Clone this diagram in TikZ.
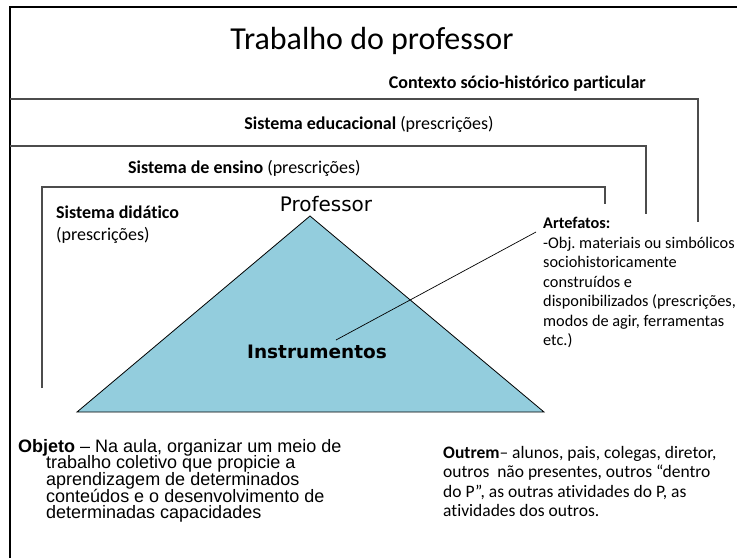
\documentclass[tikz,border=0pt]{standalone}
\usepackage{fontspec}
\setmainfont{Carlito}[Ligatures={TeX,NoCommon}]
\newfontfamily\verdanafont{DejaVu Sans}
\newfontfamily\arialfont{Liberation Sans}
\usepackage{xcolor}
\usepackage{tikz}
\usetikzlibrary{positioning, calc}
\frenchspacing
\definecolor{triblue}{HTML}{93CDDD}
\newcommand\objfont{\arialfont\fontsize{18}{16.6}\selectfont\lineskiplimit=-20pt\relax}
\tikzstyle{ctxline} = [line width=1.1pt, draw=black!70]
\tikzstyle{ctxtext} = [inner sep=0pt, font=\fontsize{18}{22}\selectfont]
\tikzstyle{notetext} = [inner sep=0pt, align=left, font=\fontsize{16.3}{19.5}\selectfont]
\tikzstyle{objtext} = [inner sep=0pt, align=left, font=\objfont]

\begin{document}
\begin{tikzpicture}[x=1pt, y=-1pt]

\useasboundingbox (0, 0) rectangle (737, 558);

% Slide frame
\draw [line width=2.5pt] (10, 558) -- (10, 7) -- (737, 7);

% Nested contexts
\draw [ctxline] (10, 99) -- (698, 99) -- (698, 222);
\draw [ctxline] (10, 146) -- (646, 146) -- (646, 214);
\draw [ctxline] (42, 388) -- (42, 187) -- (605, 187) -- (605, 204);

% Triangle of the activity
\filldraw [fill=triblue, draw=black, line width=0.8pt] (310, 216) -- (544, 412) -- (77, 412) -- cycle;

% Labels
\node (title) [anchor=base, inner sep=0pt, font=\fontsize{32}{38}\selectfont] at (372, 49) {Trabalho do professor};
\node (contexto) [ctxtext, anchor=base east] at (646, 88) {\textbf{Contexto sócio-histórico particular}};
\node (educacional) [ctxtext, anchor=base] at (369, 129) {\textbf{Sistema educacional} (prescrições)};
\node (ensino) [ctxtext, anchor=base west] at (128, 173) {\textbf{Sistema de ensino} (prescrições)};
\node (didatico) [ctxtext, anchor=north west, align=left] at (56, 206) {\textbf{Sistema didático}\\(prescrições)};

\node (professor) [anchor=base, inner sep=0pt, font=\verdanafont\fontsize{20}{24}\selectfont] at (326, 211) {Professor};
\node (instrumentos) [anchor=base, inner sep=0pt, font=\verdanafont\bfseries\fontsize{18.5}{22}\selectfont] at (317, 358) {Instrumentos};

\node (artefatos) [notetext, anchor=north west] at (543, 217) {\textbf{Artefatos:}\\
-Obj. materiais ou simbólicos\\
sociohistoricamente\\
construídos e\\
disponibilizados (prescrições,\\
modos de agir, ferramentas\\
etc.)};

\node (objeto) [objtext, anchor=north west] at (18, 439) {\textbf{Objeto} – Na aula, organizar um meio de\\
\hspace*{28pt}trabalho coletivo que propicie a\\
\hspace*{28pt}aprendizagem de determinados\\
\hspace*{28pt}conteúdos e o desenvolvimento de\\
\hspace*{28pt}determinadas capacidades};

\node (outrem) [notetext, anchor=north west, font=\fontsize{17.5}{19.5}\selectfont] at (443, 446) {\textbf{Outrem}– alunos, pais, colegas, diretor,\\
outros\ \ não presentes, outros “dentro\\
do P”, as outras atividades do P, as\\
atividades dos outros.};

% Pointer to the artefacts
\coordinate (instr-tip) at (336, 340);
\coordinate (artef-tip) at (536, 232);
\draw [line width=0.7pt] (instr-tip) -- (artef-tip);

\end{tikzpicture}
\end{document}
